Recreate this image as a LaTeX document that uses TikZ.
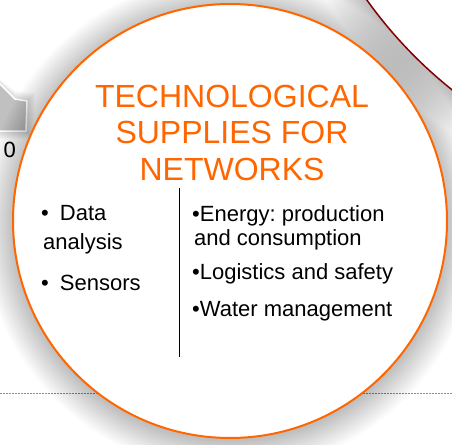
\documentclass[tikz,border=0pt]{standalone}
\usepackage{fontspec}
\setmainfont{Liberation Sans}
\usetikzlibrary{positioning}
\definecolor{netorange}{RGB}{255,102,0}
\definecolor{netred}{RGB}{128,0,0}
\definecolor{arrowgray}{RGB}{192,192,192}
\frenchspacing

\begin{document}
\begin{tikzpicture}[x=1pt,y=-1pt,
  bodytext/.style={font=\fontsize{22}{23}\selectfont,text=black,inner sep=0pt,anchor=base west},
  titletext/.style={font=\fontsize{32}{36}\selectfont,text=netorange,inner sep=0pt,anchor=base},
  halo/.style={fill=black,opacity=0.009}]
\useasboundingbox (0,0) rectangle (452,444);
\fill[white] (0,0) rectangle (452,444);

% dotted rule behind the circles
\draw[gray!90,dash pattern=on 1.5pt off 1.5pt,line width=1pt] (0,393) -- (452,393);

% block arrow, cut by the left border
\foreach \k in {1,...,8}
  \fill[black,opacity=0.02] (-14-\k,70-\k) -- (15,99-\k) -- (27+\k,101-\k) -- (26+\k,131+\k) -- (-14-\k,131+\k) -- cycle;
\draw[fill=arrowgray,draw=white,line width=1.5pt]
  (-14,70) -- (15,99) -- (27,101) -- (26,131) -- (-14,131) -- cycle;
\node[bodytext,anchor=base east] (zero) at (16,157) {0};

% soft shadow and circle, top right
\foreach \k in {1,...,32}
  \fill[halo] (730,-257) circle[radius=446+\k];
\draw[netred,line width=1.5pt,fill=white] (730,-259) circle[radius=446];

% soft shadow and main circle
\foreach \k in {1,...,32}
  \fill[halo] (230,224) circle[radius=216+\k];
\draw[netorange,line width=2pt,fill=white] (230,221) circle[radius=217];

% title
\node[titletext] (title1) at (232,107) {TECHNOLOGICAL};
\node[titletext] (title2) at (232,143.5) {SUPPLIES FOR};
\node[titletext] (title3) at (232,180) {NETWORKS};

% separator
\coordinate (septop) at (179,188);
\coordinate (sepbot) at (179,357);
\draw[black,line width=0.8pt] (septop) -- (sepbot);

% left column
\node[bodytext] (dat) at (41,220) {•\hspace{11pt}Data};
\node[bodytext] (ana) at (43,249) {analysis};
\node[bodytext] (sen) at (41,290) {•\hspace{11pt}Sensors};

% right column
\node[bodytext] (ene) at (192,221) {•Energy: production};
\node[bodytext] (con) at (194,245) {and consumption};
\node[bodytext] (log) at (192,279) {•Logistics and safety};
\node[bodytext] (wat) at (192,316) {•Water management};

\end{tikzpicture}
\end{document}
